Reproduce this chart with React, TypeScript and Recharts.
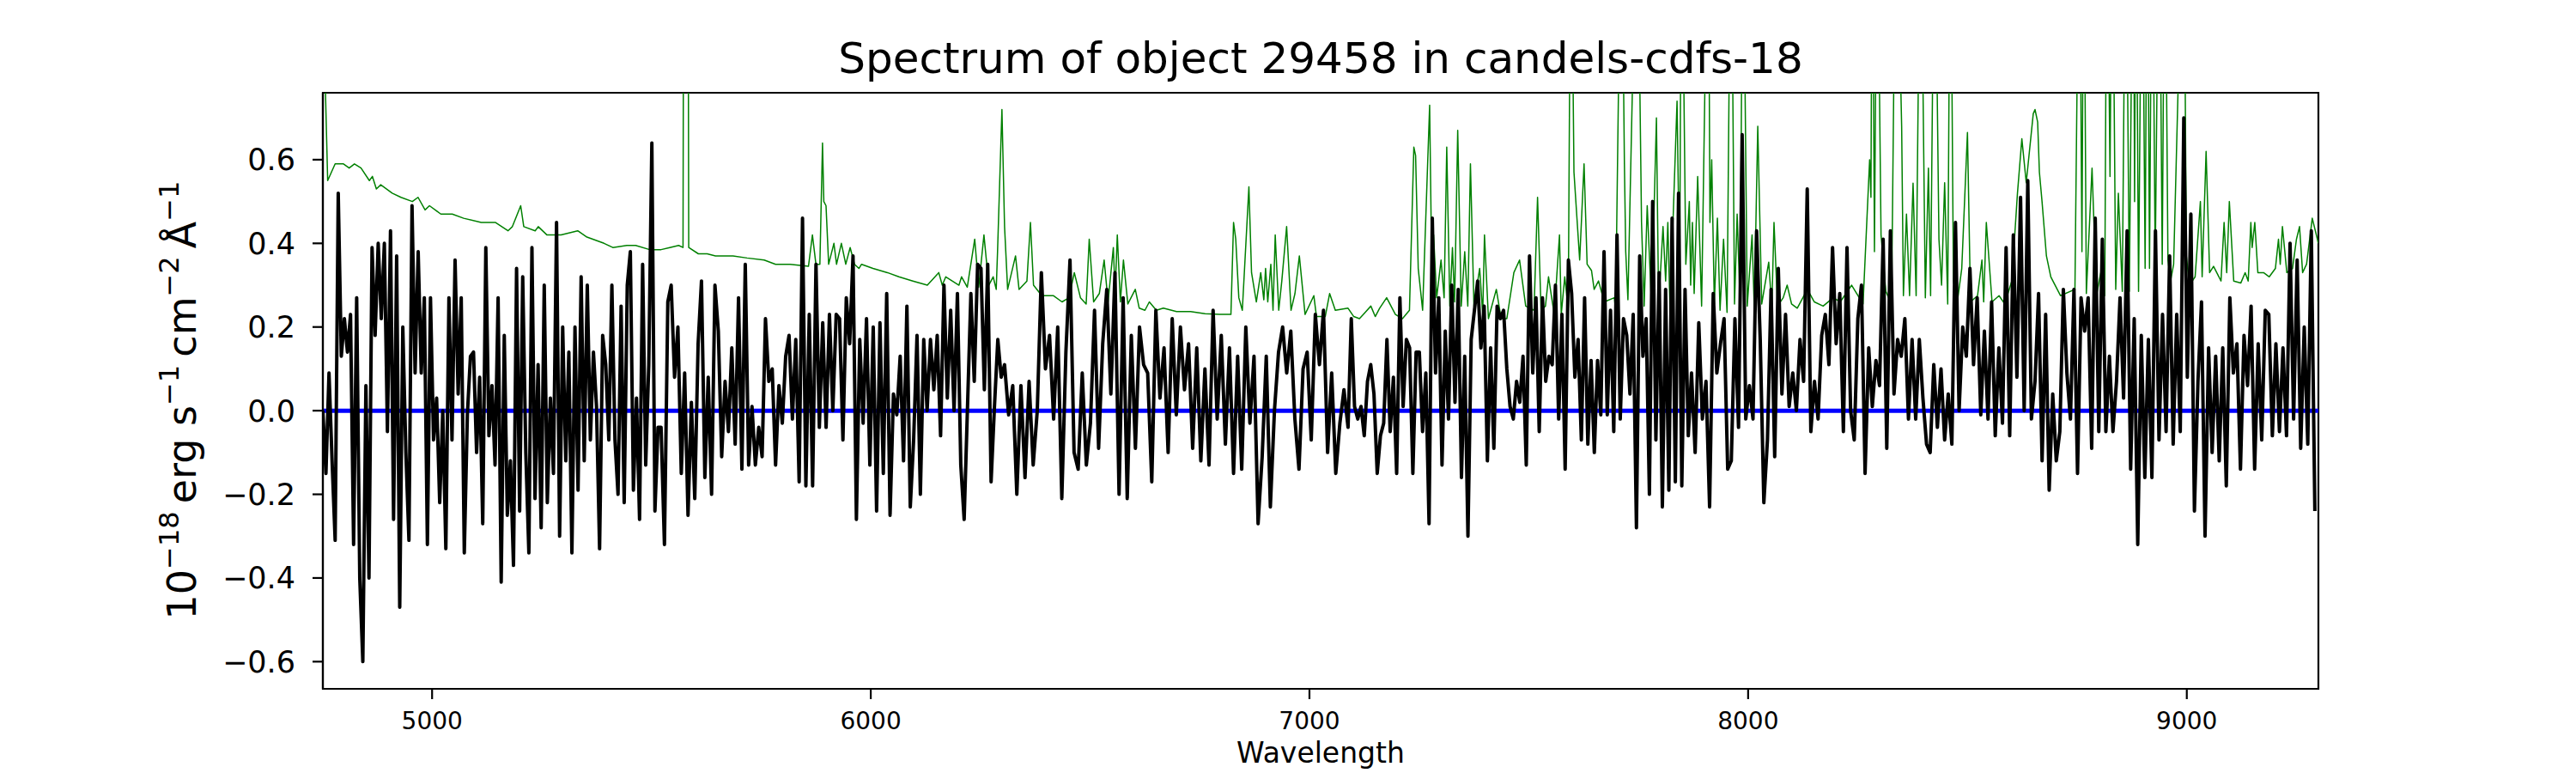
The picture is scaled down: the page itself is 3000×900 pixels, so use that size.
import React from "react";
import { LineChart, Line, XAxis, YAxis, ReferenceArea } from "recharts";

// wavelength edges of the six stretches the flux samples are read from
const segmentEdges = [4751, 5522, 6305, 7088, 7871, 8654, 9300];

const flux1 = [
  0.0, -0.15, 0.09, -0.12, -0.31, 0.52, 0.13, 0.22, 0.14, 0.23, -0.32, 0.27, -0.4, -0.6, 0.06, -0.4, 0.39, 0.18, 0.4, 0.22,
  0.4, -0.05, 0.43, -0.26, 0.37, -0.47, 0.2, -0.1, -0.31, 0.49, 0.09, 0.38, 0.09, 0.27, -0.32, 0.27, -0.07, 0.03, -0.22, 0.0,
  -0.33, 0.27, -0.07, 0.36, 0.04, 0.27, -0.34, -0.01, 0.13, 0.14, -0.1, 0.08, -0.27, 0.39, -0.06, 0.06, -0.13, 0.27, -0.41, 0.18,
  -0.25, -0.12, -0.37, 0.34, -0.24, 0.32, -0.1, -0.34, 0.39, -0.21, 0.11, -0.28, 0.3, -0.22, 0.03, -0.15, 0.45, -0.3, 0.2, -0.12,
  0.14, -0.34, 0.2, -0.19, 0.32, -0.12, 0.3, -0.07, 0.14, 0.01, -0.33, 0.18, 0.11, -0.07, 0.3, -0.07, -0.2, 0.25, -0.22, 0.3,
  0.38, -0.19, 0.03, -0.26, 0.35, -0.13, 0.11, 0.64, -0.24, -0.04,
];
const flux2 = [
  -0.04, -0.32, 0.26, 0.3, 0.08, 0.2, -0.15, 0.09, -0.25, 0.02, -0.21, 0.16, 0.31, -0.16, 0.08, -0.2, 0.3, 0.19, -0.11, 0.07,
  -0.05, 0.15, -0.08, 0.27, -0.14, 0.35, -0.13, 0.01, -0.13, -0.04, -0.11, 0.22, 0.07, 0.1, -0.13, 0.06, -0.03, 0.13, 0.18, -0.02,
  0.17, -0.17, 0.46, -0.18, 0.23, -0.18, 0.35, -0.04, 0.21, -0.04, 0.23, 0.0, 0.23, 0.22, -0.07, 0.27, 0.16, 0.37, -0.26, 0.17,
  -0.03, 0.22, -0.13, 0.2, -0.24, 0.21, -0.15, 0.28, -0.25, 0.04, -0.01, 0.13, -0.12, 0.25, -0.23, -0.07, 0.18, -0.2, 0.17, 0.0,
  0.17, 0.05, 0.18, -0.06, 0.3, 0.03, 0.24, 0.0, 0.28, -0.13, -0.26, 0.01, 0.28, 0.07, 0.35, 0.34, 0.05, 0.35, -0.17, 0.01,
  0.17, 0.08,
];
const flux3 = [
  0.11, -0.01, 0.06, -0.2, 0.06, -0.16, 0.07, -0.13, 0.0, 0.33, 0.1, 0.18, -0.02, 0.2, -0.21, 0.14, 0.36, -0.1, -0.14, 0.09,
  -0.13, -0.03, 0.24, -0.09, 0.16, 0.29, 0.04, 0.33, -0.2, 0.27, -0.21, 0.18, -0.09, 0.2, 0.11, 0.09, -0.17, 0.24, 0.03, 0.15,
  -0.1, 0.22, -0.01, 0.2, 0.05, 0.16, -0.09, 0.15, -0.12, 0.1, -0.13, 0.24, -0.02, 0.18, -0.08, 0.15, -0.15, 0.13, -0.14, 0.2,
  -0.03, 0.13, -0.27, -0.11, 0.13, -0.23, 0.0, 0.14, 0.2, 0.09, 0.19, -0.02, -0.14, 0.1, 0.14, -0.07, 0.23, 0.11, 0.24, -0.1,
  0.09, -0.15, -0.03, 0.05,
];
const flux4 = [
  -0.04, 0.22, 0.01, -0.02, 0.01, -0.06, 0.07, 0.11, 0.04, -0.15, -0.06, -0.03, 0.17, -0.05, 0.08, -0.15, 0.27, 0.01, 0.17, 0.15,
  -0.15, 0.14, 0.14, -0.05, 0.09, -0.27, 0.46, 0.09, 0.27, -0.13, 0.19, -0.02, 0.3, 0.02, 0.29, -0.16, 0.13, -0.3, 0.17, 0.24,
  0.31, 0.15, 0.25, -0.12, 0.15, -0.09, 0.25, 0.22, 0.24, 0.1, 0.01, -0.02, 0.07, 0.02, 0.13, -0.13, 0.37, 0.09, 0.27, -0.05,
  0.27, 0.07, 0.13, 0.11, 0.3, -0.02, 0.23, -0.14, 0.36, 0.28, 0.08, 0.17, -0.07, 0.27, -0.08, 0.12, -0.1, 0.12, -0.01, 0.38,
  -0.01, 0.24, -0.05, 0.42, -0.02, 0.22, 0.18, 0.04, 0.23, -0.28, 0.37, 0.13, 0.22, -0.2, 0.5, -0.07, 0.33, -0.23, 0.29, -0.19,
  0.46, -0.17, 0.52, -0.18, 0.29, -0.06,
];
const flux5 = [
  0.09, -0.1, 0.21, -0.02, 0.07, -0.23, 0.28, 0.09, 0.16, 0.22, -0.14, -0.12, 0.22, -0.04, 0.66, -0.02, 0.06, -0.02, 0.43, 0.17,
  -0.22, -0.07, 0.29, -0.11, 0.34, 0.04, 0.23, 0.01, 0.09, 0.0, 0.17, 0.07, 0.53, -0.05, 0.07, -0.02, 0.18, 0.23, 0.11, 0.39,
  0.16, 0.28, -0.05, 0.39, 0.0, -0.07, 0.22, 0.3, -0.15, 0.15, 0.01, 0.12, 0.06, 0.41, -0.09, 0.43, 0.04, 0.17, 0.13, 0.22,
  -0.02, 0.17, -0.02, 0.17, 0.03, -0.08, -0.1, 0.11, -0.04, 0.1, -0.07, 0.04, -0.08, 0.45, 0.0, 0.2, 0.13, 0.34, 0.11, 0.27,
  -0.01, 0.19, -0.02, 0.26, -0.06, 0.15, -0.03, 0.39, -0.06, 0.42, 0.08, 0.51, 0.0, 0.55, -0.02,
];
const flux6 = [
  0.07, 0.28, -0.12, 0.23, -0.19, 0.04, -0.12, -0.05, 0.29, 0.09, -0.02, 0.29, -0.15, 0.27, 0.19, 0.27, -0.09, 0.46, -0.05, 0.41,
  -0.05, 0.13, -0.05, 0.07, 0.27, 0.03, 0.43, -0.14, 0.22, -0.32, 0.18, -0.16, 0.17, -0.16, 0.43, -0.07, 0.23, -0.05, 0.37, -0.08,
  0.23, -0.05, 0.7, 0.08, 0.47, -0.24, 0.07, 0.26, -0.3, 0.15, -0.1, 0.13, -0.12, 0.15, -0.18, 0.27, 0.09, 0.16, -0.14, 0.18,
  0.06, 0.25, -0.14, 0.16, -0.07, 0.24, 0.23, -0.06, 0.16, -0.05, 0.15, -0.06, 0.4, -0.02, 0.36, -0.09, 0.2, -0.08, 0.43, -0.24,
];

// noise spectrum as [wavelength, value]; values above the frame are sky-line spikes
const noiseSpectrum: [number, number][] = [
  [4751, 1.3], [4756, 0.8], [4762, 0.55], [4779, 0.59], [4798, 0.59], [4811, 0.58], [4823, 0.59], [4838, 0.58],
  [4857, 0.55], [4864, 0.56], [4873, 0.53], [4883, 0.54], [4909, 0.52], [4929, 0.51], [4955, 0.5], [4968, 0.51],
  [4984, 0.48], [4994, 0.49], [5020, 0.47], [5046, 0.47], [5072, 0.46], [5112, 0.45], [5144, 0.45], [5173, 0.43],
  [5183, 0.44], [5202, 0.49], [5209, 0.44], [5235, 0.43], [5242, 0.44], [5262, 0.42], [5294, 0.42], [5332, 0.43],
  [5353, 0.415], [5392, 0.4], [5412, 0.39], [5444, 0.395], [5464, 0.395], [5496, 0.385], [5522, 0.385],
  [5542, 0.39], [5562, 0.395], [5572, 0.39], [5574, 1.5], [5583, 1.5], [5585, 0.39], [5607, 0.375], [5627, 0.375],
  [5646, 0.37], [5686, 0.37], [5718, 0.365], [5757, 0.36], [5783, 0.35], [5816, 0.35], [5858, 0.345], [5867, 0.42],
  [5875, 0.35], [5884, 0.35], [5890, 0.64], [5893, 0.5], [5898, 0.49], [5904, 0.35], [5916, 0.4], [5922, 0.35],
  [5933, 0.4], [5943, 0.35], [5953, 0.39], [5963, 0.35], [5973, 0.34], [5979, 0.35], [6005, 0.34], [6038, 0.33],
  [6064, 0.32], [6096, 0.31], [6129, 0.3], [6155, 0.33], [6163, 0.3], [6171, 0.32], [6201, 0.3], [6207, 0.32],
  [6220, 0.295], [6237, 0.41], [6246, 0.295], [6258, 0.42], [6269, 0.3], [6279, 0.32], [6286, 0.29], [6289, 0.38],
  [6299, 0.72], [6305, 0.44], [6312, 0.29], [6330, 0.37], [6338, 0.29], [6356, 0.31], [6364, 0.45], [6371, 0.3],
  [6390, 0.275], [6416, 0.275], [6436, 0.26], [6452, 0.27], [6464, 0.33], [6478, 0.27], [6491, 0.255], [6498, 0.41],
  [6508, 0.26], [6521, 0.28], [6532, 0.36], [6541, 0.26], [6553, 0.39], [6557, 0.28], [6562, 0.42], [6569, 0.26],
  [6576, 0.36], [6586, 0.255], [6603, 0.29], [6612, 0.245], [6625, 0.24], [6635, 0.26], [6651, 0.24], [6667, 0.245],
  [6697, 0.237], [6729, 0.237], [6762, 0.232], [6795, 0.23], [6821, 0.23], [6827, 0.45], [6832, 0.41], [6839, 0.27],
  [6847, 0.24], [6862, 0.535], [6868, 0.33], [6879, 0.26], [6889, 0.33], [6896, 0.265], [6900, 0.34], [6905, 0.26],
  [6912, 0.35], [6917, 0.24], [6922, 0.42], [6930, 0.24], [6937, 0.31], [6948, 0.44], [6958, 0.24], [6967, 0.28],
  [6977, 0.37], [6990, 0.23], [7010, 0.275], [7016, 0.225], [7036, 0.225], [7046, 0.28], [7059, 0.24], [7088, 0.245],
  [7101, 0.225], [7114, 0.22], [7127, 0.235], [7140, 0.25], [7150, 0.225], [7160, 0.245], [7176, 0.27], [7196, 0.23],
  [7212, 0.22], [7228, 0.24], [7238, 0.63], [7242, 0.61], [7248, 0.34], [7258, 0.24], [7274, 0.73], [7279, 0.32],
  [7283, 0.42], [7290, 0.27], [7300, 0.36], [7307, 0.27], [7313, 0.63], [7320, 0.25], [7326, 0.39], [7331, 0.26],
  [7338, 0.67], [7346, 0.25], [7354, 0.38], [7361, 0.25], [7367, 0.59], [7375, 0.25], [7388, 0.34], [7395, 0.23],
  [7399, 0.42], [7408, 0.22], [7426, 0.29], [7437, 0.22], [7450, 0.22], [7466, 0.33], [7479, 0.36], [7493, 0.25],
  [7512, 0.24], [7520, 0.51], [7528, 0.24], [7538, 0.25], [7545, 0.32], [7558, 0.23], [7570, 0.42], [7574, 0.23],
  [7582, 0.32], [7590, 0.24], [7596, 1.3], [7603, 0.57], [7616, 0.36], [7626, 0.59], [7633, 0.35], [7643, 0.335],
  [7649, 0.29], [7659, 0.31], [7672, 0.26], [7695, 0.27], [7698, 0.24], [7711, 1.3], [7718, 0.59], [7721, 0.38],
  [7726, 0.265], [7747, 1.3], [7757, 0.45], [7763, 0.25], [7770, 0.49], [7780, 0.25], [7791, 0.7], [7796, 0.25],
  [7806, 0.44], [7812, 0.31], [7817, 0.45], [7822, 0.24], [7838, 0.74], [7844, 0.3], [7848, 1.3], [7858, 0.35],
  [7866, 0.5], [7869, 0.3], [7873, 0.45], [7877, 0.28], [7885, 0.56], [7894, 0.25], [7909, 1.3], [7913, 0.45],
  [7917, 0.6], [7923, 0.255], [7930, 0.46], [7936, 0.24], [7944, 0.41], [7952, 0.235], [7961, 1.3], [7969, 0.255],
  [7975, 0.47], [7982, 0.245], [7988, 1.3], [7998, 0.25], [8009, 0.42], [8014, 0.245], [8022, 0.68], [8031, 0.255],
  [8047, 0.355], [8054, 0.245], [8059, 0.45], [8067, 0.25], [8080, 0.27], [8089, 0.3], [8099, 0.255], [8112, 0.245],
  [8135, 0.29], [8151, 0.26], [8171, 0.25], [8194, 0.27], [8210, 0.26], [8236, 0.3], [8262, 0.255], [8277, 0.6],
  [8280, 0.51], [8283, 1.3], [8288, 0.38], [8294, 1.3], [8303, 0.42], [8314, 0.285], [8327, 0.255], [8337, 1.3],
  [8350, 0.68], [8354, 0.275], [8361, 0.47], [8368, 0.275], [8376, 0.544], [8383, 0.275], [8393, 1.3], [8404, 0.27],
  [8411, 0.58], [8416, 0.275], [8425, 1.3], [8435, 0.41], [8441, 0.3], [8448, 0.545], [8455, 0.255], [8461, 1.3],
  [8468, 0.31], [8477, 0.26], [8487, 0.34], [8500, 0.665], [8507, 0.26], [8523, 0.275], [8533, 0.36], [8537, 0.26],
  [8543, 0.45], [8556, 0.26], [8572, 0.275], [8585, 0.255], [8601, 0.31], [8614, 0.52], [8624, 0.65], [8634, 0.545],
  [8650, 0.71], [8654, 0.72], [8660, 0.69], [8664, 0.57], [8670, 0.5], [8680, 0.37], [8690, 0.32], [8712, 0.275],
  [8745, 0.29], [8755, 1.3], [8761, 0.38], [8765, 1.3], [8771, 0.28], [8784, 0.58], [8794, 0.275], [8804, 0.33],
  [8813, 0.275], [8818, 1.3], [8825, 0.56], [8830, 1.3], [8838, 0.29], [8844, 0.52], [8853, 0.285], [8861, 1.3],
  [8869, 0.285], [8878, 1.3], [8881, 0.5], [8884, 1.3], [8890, 0.285], [8898, 1.3], [8905, 0.34], [8910, 1.3],
  [8915, 0.34], [8921, 1.3], [8928, 0.35], [8937, 1.3], [8944, 0.35], [8950, 1.3], [8957, 0.36], [8963, 0.31],
  [8970, 0.35], [8993, 1.3], [8999, 0.37], [9006, 0.3], [9019, 0.32], [9031, 0.5], [9035, 0.32], [9044, 0.62],
  [9052, 0.33], [9061, 0.345], [9078, 0.31], [9085, 0.45], [9091, 0.33], [9097, 0.5], [9107, 0.31], [9123, 0.305],
  [9133, 0.33], [9140, 0.31], [9146, 0.45], [9149, 0.39], [9155, 0.45], [9162, 0.33], [9175, 0.33], [9188, 0.32],
  [9202, 0.34], [9209, 0.41], [9213, 0.35], [9218, 0.44], [9228, 0.33], [9241, 0.34], [9250, 0.41], [9257, 0.44],
  [9264, 0.33], [9273, 0.35], [9286, 0.46], [9300, 0.4],
];

const zeroLevel: [number, number][] = [[4751, 0], [9300, 0]];

const xDomain = [4751, 9300];
const yDomain = [-0.665, 0.76];
const xTicks = [5000, 6000, 7000, 8000, 9000];
const yTicks = [-0.6, -0.4, -0.2, 0, 0.2, 0.4, 0.6];

const TITLE = "Spectrum of object 29458 in candels-cdfs-18";
const FONT = "DejaVu Sans, sans-serif";

// samples of each stretch sit on an even wavelength grid inside it
const fluxData = [flux1, flux2, flux3, flux4, flux5, flux6].flatMap((vals, k) => {
  const a = segmentEdges[k];
  const b = segmentEdges[k + 1];
  const step = (b - a) / vals.length;
  return vals.map((f, i) => ({ w: a + i * step, f }));
});
const noiseData = noiseSpectrum.map(([w, f]) => ({ w, f }));
const zeroData = zeroLevel.map(([w, f]) => ({ w, f }));

const fmtY = (v: number) => (v < 0 ? "\u2212" + Math.abs(v).toFixed(1) : v.toFixed(1));

export default function App() {
  const sup = 32;
  return (
    <div style={{ position: "absolute", left: 0, top: 0, width: 3000, height: 900, background: "#fff" }}>
      <LineChart width={3000} height={900} margin={{ top: 108, right: 300, bottom: 0, left: 0 }}>
        <XAxis
          dataKey="w"
          type="number"
          domain={xDomain}
          ticks={xTicks}
          allowDataOverflow
          height={98}
          tickSize={12}
          tickMargin={15}
          axisLine={{ stroke: "#000", strokeWidth: 2.2 }}
          tickLine={{ stroke: "#000", strokeWidth: 2.2 }}
          tick={{ fill: "#000", fontSize: 28, fontFamily: FONT }}
        />
        <YAxis
          type="number"
          domain={yDomain}
          ticks={yTicks}
          allowDataOverflow
          width={376}
          tickSize={12}
          tickMargin={20}
          tickFormatter={fmtY}
          axisLine={{ stroke: "#000", strokeWidth: 2.2 }}
          tickLine={{ stroke: "#000", strokeWidth: 2.2 }}
          tick={{ fill: "#000", fontSize: 35, fontFamily: FONT }}
        />
        <Line
          data={noiseData}
          dataKey="f"
          stroke="#008000"
          strokeWidth={1.5}
          dot={false}
          activeDot={false}
          isAnimationActive={false}
          strokeLinejoin="round"
        />
        <Line
          data={zeroData}
          dataKey="f"
          stroke="#0000ff"
          strokeWidth={5}
          dot={false}
          activeDot={false}
          isAnimationActive={false}
        />
        <Line
          data={fluxData}
          dataKey="f"
          stroke="#000"
          strokeWidth={4}
          dot={false}
          activeDot={false}
          isAnimationActive={false}
          strokeLinejoin="round"
        />
        <ReferenceArea
          x1={xDomain[0]}
          x2={xDomain[1]}
          y1={yDomain[0]}
          y2={yDomain[1]}
          fill="none"
          fillOpacity={0}
          stroke="#000"
          strokeWidth={2.2}
          ifOverflow="visible"
        />
      </LineChart>
      <svg
        width={3000}
        height={900}
        style={{ position: "absolute", left: 0, top: 0, pointerEvents: "none" }}
        fontFamily={FONT}
      >
        <text x={1538} y={85} textAnchor="middle" fontSize={50} fill="#000">
          {TITLE}
        </text>
        <text x={1538} y={888} textAnchor="middle" fontSize={33} fill="#000">
          Wavelength
        </text>
        <text transform="translate(228,466) rotate(-90)" textAnchor="middle" fontSize={46} fill="#000">
          <tspan>10</tspan>
          <tspan fontSize={sup} dy={-20}>{"\u221218"}</tspan>
          <tspan dy={20}>{"\u2009erg s"}</tspan>
          <tspan fontSize={sup} dy={-20}>{"\u22121"}</tspan>
          <tspan dy={20}>{"\u2009cm"}</tspan>
          <tspan fontSize={sup} dy={-20}>{"\u22122"}</tspan>
          <tspan dy={20}>{"\u2009Å"}</tspan>
          <tspan fontSize={sup} dy={-20}>{"\u22121"}</tspan>
        </text>
      </svg>
    </div>
  );
}
